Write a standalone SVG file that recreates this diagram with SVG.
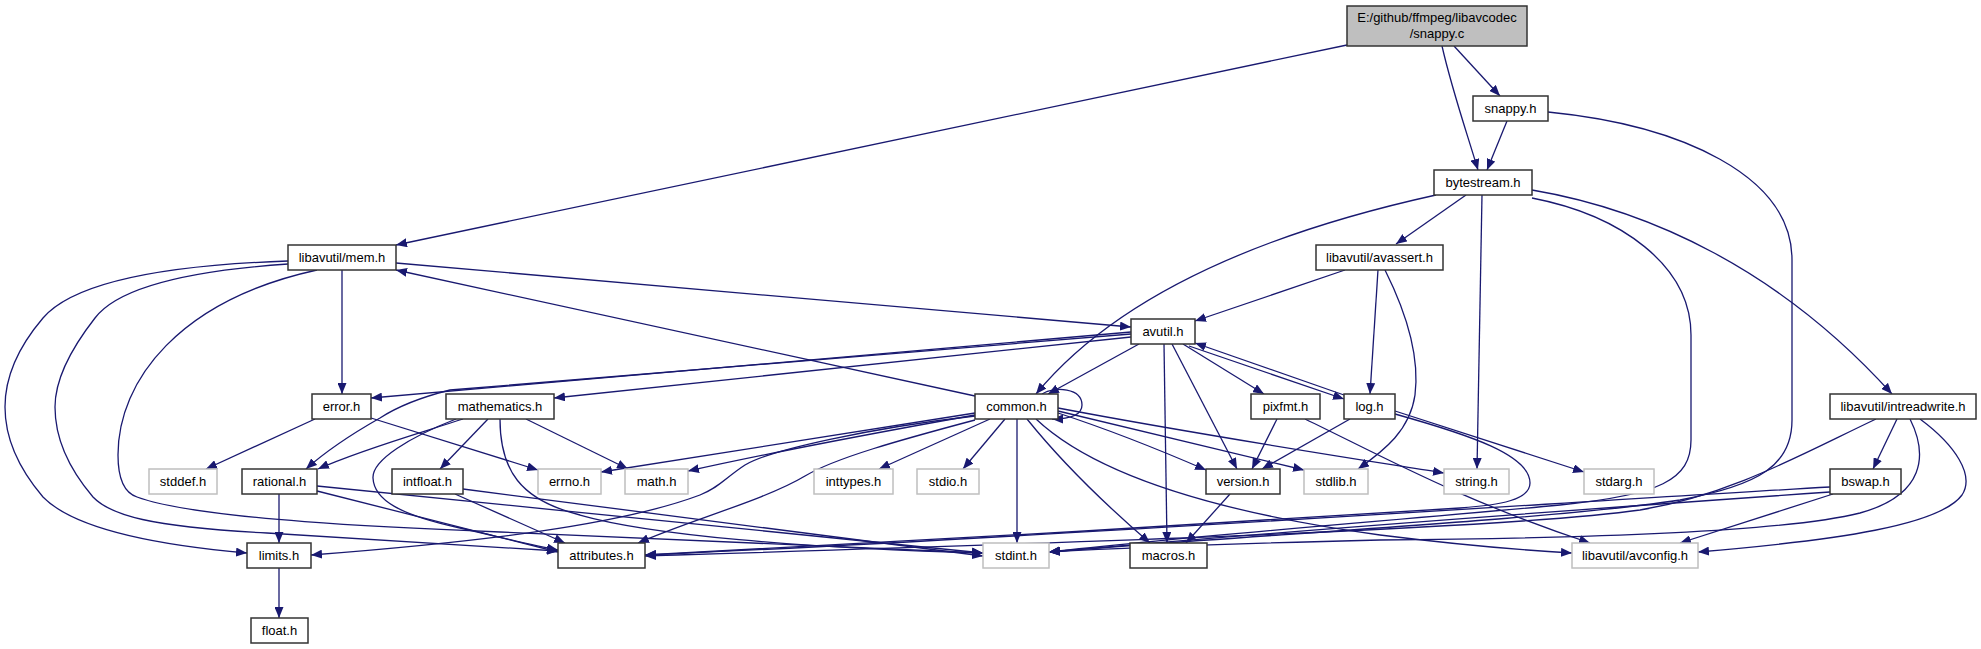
<svg xmlns="http://www.w3.org/2000/svg" width="1981" height="649" viewBox="0 0 1981 649">
<defs>
<marker id="ah" markerUnits="userSpaceOnUse" markerWidth="12" markerHeight="9" refX="11" refY="4.5" orient="auto">
<path d="M0,0 L11,4.5 L0,9 z" fill="#191970"/>
</marker>
<style>
.n rect{fill:#fff;stroke:#333;stroke-width:1.5}
.x rect{fill:#fff;stroke:#bfbfbf;stroke-width:1.5}
.r rect{fill:#bfbfbf;stroke:#333;stroke-width:1.5}
text{font-family:"Liberation Sans",Arial,sans-serif;font-size:13px;fill:#000;text-anchor:middle}
#edges path{fill:none;stroke:#191970;stroke-width:1.3;marker-end:url(#ah)}
</style>
</defs>
<rect width="1981" height="649" fill="#fff"/>
<g id="edges">
<path d="M1347,45 L396,245"/>
<path d="M1442,46 C1452,90 1466,130 1478,170"/>
<path d="M1454,46 L1500,96"/>
<path d="M1507,121 L1487,170"/>
<path d="M1548,112 C1680,125 1792,175 1792,260 L1792,420 C1792,465 1760,485 1680,500 C1550,520 1250,535 1049,552"/>
<path d="M1436,195 C1300,225 1130,280 1036,394"/>
<path d="M1466,195 L1396,244"/>
<path d="M1482,195 L1477,469"/>
<path d="M1532,198 C1620,215 1691,265 1691,335 L1691,440 C1691,480 1660,495 1560,505 C1400,520 1200,535 1049,552"/>
<path d="M1532,190 C1650,210 1780,270 1892,394"/>
<path d="M1345,270 L1195,321"/>
<path d="M1378,270 L1370,394"/>
<path d="M1385,270 C1405,310 1420,355 1415,395 C1410,430 1385,450 1358,469"/>
<path d="M342,270 L342,394"/>
<path d="M396,263 L1131,327"/>
<path d="M288,261 C200,264 80,275 43,318 C20,345 5,375 5,407 C5,440 20,470 43,497 C80,535 190,548 247,553"/>
<path d="M288,264 C200,270 120,285 95,318 C70,350 55,380 55,407 C55,440 70,470 93,497 C110,515 150,527 267,533 C380,540 480,546 558,551"/>
<path d="M317,270 C180,300 118,380 118,455 C118,480 125,493 137,497 C200,520 400,528 500,532 C700,540 850,548 983,553"/>
<path d="M1139,344 L1048,394"/>
<path d="M1131,332 L371,398"/>
<path d="M1131,334 L450,390 C430,395 400,405 380,418 C350,435 325,452 306,469"/>
<path d="M1131,337 L554,398"/>
<path d="M1172,344 L1237,469"/>
<path d="M1164,344 L1167,543"/>
<path d="M1183,344 L1264,394"/>
<path d="M1189,346 L1344,399"/>
<path d="M1344,395 L1195,343"/>
<path d="M975,396 L396,270"/>
<path d="M975,413 L601,472"/>
<path d="M975,415 C880,432 760,455 688,471"/>
<path d="M975,420 C900,440 835,458 805,476 C765,500 690,520 638,543"/>
<path d="M975,416 C870,428 770,450 745,465 C725,478 720,487 700,495 C620,525 480,542 311,555"/>
<path d="M990,419 L879,469"/>
<path d="M1005,419 L963,469"/>
<path d="M1017,419 L1017,543"/>
<path d="M1027,419 C1060,460 1100,500 1150,543"/>
<path d="M1036,419 C1090,470 1200,510 1380,535 C1460,545 1520,550 1572,553"/>
<path d="M1058,413 C1110,430 1160,450 1206,470"/>
<path d="M1058,411 L1304,470"/>
<path d="M1058,408 C1200,435 1350,458 1444,473"/>
<path d="M1042,394 C1055,386 1082,388 1082,405 C1082,415 1070,419 1052,419"/>
<path d="M526,419 L628,469"/>
<path d="M488,419 L440,469"/>
<path d="M463,419 C420,433 360,450 318,469"/>
<path d="M456,419 C410,437 372,460 373,478 C374,500 400,515 460,528 C500,537 530,545 558,550"/>
<path d="M500,419 C500,470 520,500 580,515 C650,535 800,548 983,553"/>
<path d="M279,494 L279,543"/>
<path d="M317,491 L558,552"/>
<path d="M317,486 L983,553"/>
<path d="M455,494 L565,543"/>
<path d="M463,489 L983,556"/>
<path d="M315,419 L206,469"/>
<path d="M371,418 L538,470"/>
<path d="M279,568 L279,618"/>
<path d="M1230,494 L1186,543"/>
<path d="M1277,419 L1252,469"/>
<path d="M1305,419 C1380,455 1460,500 1590,543"/>
<path d="M1350,419 L1262,469"/>
<path d="M1395,411 L1584,472"/>
<path d="M1395,414 C1470,435 1530,455 1530,483 C1530,500 1500,505 1460,508 C1200,525 900,542 645,555"/>
<path d="M1897,419 L1873,469"/>
<path d="M1876,419 C1800,455 1730,495 1640,510 C1500,530 1000,545 645,556"/>
<path d="M1910,419 C1928,455 1925,495 1860,513 C1800,528 1650,538 1380,540 C1250,543 1120,548 1049,552"/>
<path d="M1920,419 C1955,445 1975,475 1962,495 C1940,525 1840,540 1698,552"/>
<path d="M1830,487 C1600,500 1000,540 645,555"/>
<path d="M1830,492 C1600,508 1300,530 1049,552"/>
<path d="M1833,494 L1680,543"/>
</g>
<g id="snappy_c" class="r"><rect x="1347" y="6" width="180" height="40"/><text x="1437" y="22">E:/github/ffmpeg/libavcodec</text><text x="1437" y="38">/snappy.c</text></g>
<g id="snappy_h" class="n"><rect x="1473" y="96" width="75" height="25"/><text x="1510.5" y="113">snappy.h</text></g>
<g id="bytestream_h" class="n"><rect x="1434" y="170" width="98" height="25"/><text x="1483" y="187">bytestream.h</text></g>
<g id="avassert_h" class="n"><rect x="1316" y="245" width="127" height="25"/><text x="1379.5" y="262">libavutil/avassert.h</text></g>
<g id="mem_h" class="n"><rect x="288" y="245" width="108" height="25"/><text x="342" y="262">libavutil/mem.h</text></g>
<g id="avutil_h" class="n"><rect x="1131" y="319" width="64" height="25"/><text x="1163" y="336">avutil.h</text></g>
<g id="error_h" class="n"><rect x="312" y="394" width="59" height="25"/><text x="341.5" y="411">error.h</text></g>
<g id="mathematics_h" class="n"><rect x="446" y="394" width="108" height="25"/><text x="500" y="411">mathematics.h</text></g>
<g id="common_h" class="n"><rect x="975" y="394" width="83" height="25"/><text x="1016.5" y="411">common.h</text></g>
<g id="pixfmt_h" class="n"><rect x="1251" y="394" width="69" height="25"/><text x="1285.5" y="411">pixfmt.h</text></g>
<g id="log_h" class="n"><rect x="1344" y="394" width="51" height="25"/><text x="1369.5" y="411">log.h</text></g>
<g id="intreadwrite_h" class="n"><rect x="1830" y="394" width="146" height="25"/><text x="1903" y="411">libavutil/intreadwrite.h</text></g>
<g id="stddef_h" class="x"><rect x="149" y="469" width="68" height="25"/><text x="183" y="486">stddef.h</text></g>
<g id="rational_h" class="n"><rect x="242" y="469" width="75" height="25"/><text x="279.5" y="486">rational.h</text></g>
<g id="intfloat_h" class="n"><rect x="392" y="469" width="71" height="25"/><text x="427.5" y="486">intfloat.h</text></g>
<g id="errno_h" class="x"><rect x="538" y="469" width="63" height="25"/><text x="569.5" y="486">errno.h</text></g>
<g id="math_h" class="x"><rect x="625" y="469" width="63" height="25"/><text x="656.5" y="486">math.h</text></g>
<g id="inttypes_h" class="x"><rect x="814" y="469" width="79" height="25"/><text x="853.5" y="486">inttypes.h</text></g>
<g id="stdio_h" class="x"><rect x="917" y="469" width="62" height="25"/><text x="948" y="486">stdio.h</text></g>
<g id="version_h" class="n"><rect x="1206" y="469" width="74" height="25"/><text x="1243" y="486">version.h</text></g>
<g id="stdlib_h" class="x"><rect x="1304" y="469" width="64" height="25"/><text x="1336" y="486">stdlib.h</text></g>
<g id="string_h" class="x"><rect x="1444" y="469" width="65" height="25"/><text x="1476.5" y="486">string.h</text></g>
<g id="stdarg_h" class="x"><rect x="1584" y="469" width="70" height="25"/><text x="1619" y="486">stdarg.h</text></g>
<g id="bswap_h" class="n"><rect x="1830" y="469" width="71" height="25"/><text x="1865.5" y="486">bswap.h</text></g>
<g id="limits_h" class="n"><rect x="247" y="543" width="64" height="25"/><text x="279" y="560">limits.h</text></g>
<g id="attributes_h" class="n"><rect x="558" y="543" width="87" height="25"/><text x="601.5" y="560">attributes.h</text></g>
<g id="stdint_h" class="x"><rect x="983" y="543" width="66" height="25"/><text x="1016" y="560">stdint.h</text></g>
<g id="macros_h" class="n"><rect x="1130" y="543" width="77" height="25"/><text x="1168.5" y="560">macros.h</text></g>
<g id="avconfig_h" class="x"><rect x="1572" y="543" width="126" height="25"/><text x="1635" y="560">libavutil/avconfig.h</text></g>
<g id="float_h" class="n"><rect x="251" y="618" width="57" height="25"/><text x="279.5" y="635">float.h</text></g>
</svg>
